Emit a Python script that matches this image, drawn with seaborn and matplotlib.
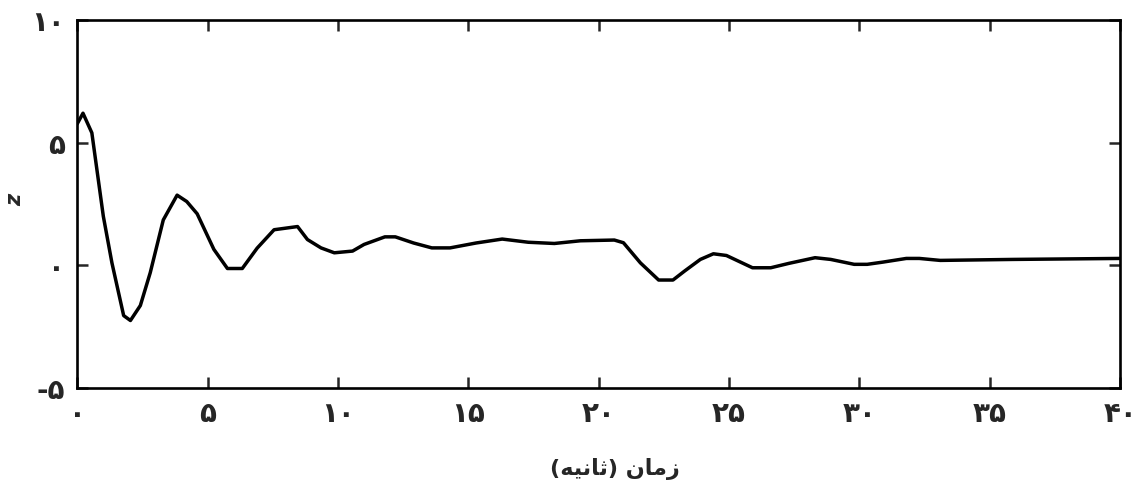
import numpy as np
import pandas as pd
import seaborn as sns
import matplotlib.pyplot as plt

# time (s) and response
t = [0, 0.22, 0.56, 1.0, 1.33, 1.78, 2.04, 2.42, 2.8, 3.3, 3.83, 4.2, 4.6,
     5.24, 5.76, 6.33, 6.9, 7.55, 8.45, 8.83, 9.35, 9.86, 10.56, 11.0, 11.8,
     12.2, 12.9, 13.6, 14.3, 15.3, 16.3, 17.3, 18.3, 19.3, 20.6, 20.95, 21.6,
     22.3, 22.85, 23.3, 23.9, 24.4, 24.9, 25.9, 26.6, 27.3, 28.3, 28.9,
     29.8, 30.3, 30.9, 31.8, 32.3, 33.1, 35.9, 40.0]
z = [5.77, 6.2, 5.4, 2.0, 0.1, -2.05, -2.25, -1.64, -0.3, 1.85, 2.86, 2.6, 2.1,
     0.65, -0.13, -0.13, 0.7, 1.45, 1.58, 1.05, 0.71, 0.51, 0.58, 0.85, 1.16,
     1.16, 0.91, 0.71, 0.71, 0.91, 1.07, 0.94, 0.89, 1.0, 1.03, 0.92, 0.1,
     -0.6, -0.6, -0.23, 0.24, 0.47, 0.4, -0.1, -0.1, 0.08, 0.31, 0.24,
     0.04, 0.04, 0.13, 0.28, 0.28, 0.2, 0.24, 0.28]

x_ticks = [0, 5, 10, 15, 20, 25, 30, 35, 40]
x_labels = ['۰', '۵', '۱۰', '۱۵', '۲۰', '۲۵', '۳۰', '۳۵', '۴۰']
y_ticks = [-5, 0, 5, 10]
y_labels = ['-۵', '۰', '۵', '۱۰']

# "زمان (ثانیه)" in presentation forms, visual order (no bidi in matplotlib)
x_title = '(' + '\uFEEA\uFEF4\uFEE7\uFE8E\uFE9B' + ') ' + '\uFEE5\uFE8E\uFEE3\uFEAF'

df = pd.DataFrame({'t': t, 'z': z})

sns.set_style("ticks")
plt.rcParams['font.family'] = ['DejaVu Sans']

fig = plt.figure(figsize=(11.36, 4.88), dpi=100)
ax = fig.add_axes([0.068, 0.205, 0.918, 0.754])
sns.lineplot(data=df, x='t', y='z', color='black', linewidth=2.5, ax=ax)

ax.set_xlim(0, 40)
ax.set_ylim(-5, 10)
ax.set_xticks(x_ticks)
ax.set_xticklabels(x_labels, fontsize=20, fontweight='bold')
ax.set_yticks(y_ticks)
ax.set_yticklabels(y_labels, fontsize=20, fontweight='bold')
ax.tick_params(direction='in', length=8, width=1.8, top=True, right=True, pad=9)
for s in ax.spines.values():
    s.set_visible(True)
    s.set_linewidth(1.9)
    s.set_color('black')

ax.set_xlabel(x_title, fontsize=16, fontweight='bold')
ax.xaxis.set_label_coords(0.516, -0.19)
ax.set_ylabel('z', fontsize=15, fontweight='bold', style='italic')
ax.yaxis.set_label_coords(-0.05, 0.51)

fig.savefig('out.png', dpi=100)
